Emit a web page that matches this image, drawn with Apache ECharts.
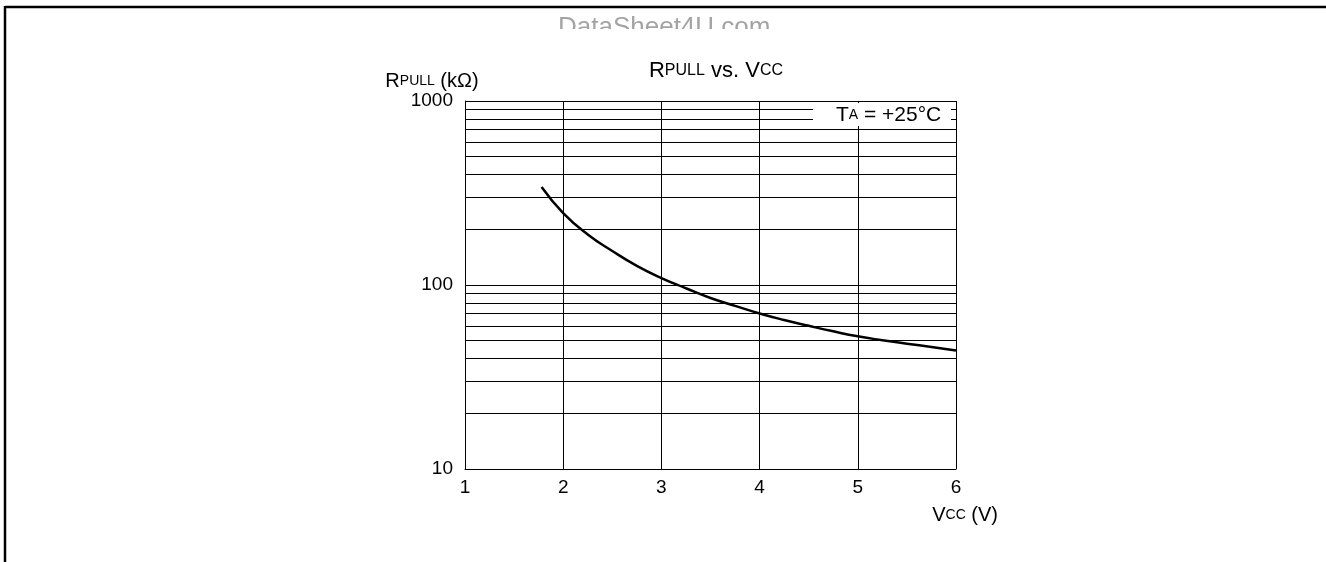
<!DOCTYPE HTML>
<html style="height: 100%">
<head>
    <meta charset="utf-8">
    <title>RPULL vs. VCC</title>
    <style>
        html, body { margin: 0; padding: 0; background: #fff; }
        #container { width: 1326px; height: 562px; }
    </style>
</head>
<body>
    <div id="container"></div>
    <script src="https://cdn.jsdelivr.net/npm/echarts@6/dist/echarts.min.js"></script>
    <script>
        // 曲线读数 (Vcc, Rpull kΩ)
        var vcc = [1.78, 2, 2.25, 2.5, 2.75, 3, 3.25, 3.5, 3.75, 4, 4.25, 4.5, 4.75, 5, 5.25, 5.5, 5.75, 6];
        var rpull = [341, 246, 188, 153, 127, 109, 96, 85, 77, 70, 64.5, 60, 56, 52.6, 50.1, 48, 46, 44];
        // 对数网格次刻度
        var minorGrid = [20, 30, 40, 50, 60, 70, 80, 90, 200, 300, 400, 500, 600, 700, 800, 900];
        var xTicks = [1, 2, 3, 4, 5, 6];

        var font = '"Liberation Sans", Arial, sans-serif';
        function rich(b, s) {
            return {
                big: { fontSize: b, color: '#000', fontFamily: font, fontWeight: 'normal' },
                small: { fontSize: s, color: '#000', fontFamily: font, fontWeight: 'normal' }
            };
        }

        var curve = [];
        for (var i = 0; i < vcc.length; i++) {
            curve.push([vcc[i], rpull[i]]);
        }
        var minorLines = [];
        for (var j = 0; j < minorGrid.length; j++) {
            minorLines.push({ yAxis: minorGrid[j] });
        }

        var myChart = echarts.init(document.getElementById('container'));
        var option = {
            backgroundColor: '#fff',
            animation: false,
            title: {
                text: '{big|R}{small|PULL}{big| vs. V}{small|CC}',
                left: 711,
                top: 55,
                textAlign: 'center',
                textStyle: { fontWeight: 'normal', rich: rich(22, 16) }
            },
            grid: { left: 465, right: 370, top: 101, bottom: 93 },
            xAxis: {
                type: 'value',
                min: 1,
                max: 6,
                interval: 1,
                name: '{big|V}{small|CC}{big| (V)}',
                nameLocation: 'end',
                nameGap: 0,
                nameTextStyle: {
                    align: 'right',
                    verticalAlign: 'top',
                    padding: [36, -42, 0, 0],
                    rich: rich(20, 14)
                },
                axisLine: { lineStyle: { color: '#000', width: 1 } },
                axisTick: { show: false },
                axisLabel: {
                    margin: 9,
                    fontSize: 19,
                    color: '#000',
                    fontFamily: font,
                    formatter: function (v) { return xTicks.indexOf(v) >= 0 ? String(v) : ''; }
                },
                splitLine: { show: true, lineStyle: { color: '#000', width: 1 } }
            },
            yAxis: {
                type: 'log',
                logBase: 10,
                min: 10,
                max: 1000,
                name: '{big|R}{small|PULL}{big| (kΩ)}',
                nameLocation: 'end',
                nameGap: 5,
                nameTextStyle: {
                    align: 'center',
                    padding: [0, 0, 0, -66],
                    rich: rich(20, 14)
                },
                axisLine: { show: true, lineStyle: { color: '#000', width: 1 } },
                axisTick: { show: false },
                axisLabel: {
                    margin: 12,
                    fontSize: 19,
                    color: '#000',
                    fontFamily: font,
                    formatter: function (v) { return String(Math.round(v)); }
                },
                splitLine: { show: true, lineStyle: { color: '#000', width: 1 } }
            },
            graphic: [
                // 外框
                { type: 'line', shape: { x1: 5, y1: 7, x2: 1326, y2: 7 }, style: { stroke: '#000', lineWidth: 2.5 }, z: 100 },
                { type: 'line', shape: { x1: 5, y1: 6, x2: 5, y2: 562 }, style: { stroke: '#000', lineWidth: 2.5 }, z: 100 },
                // 水印 (上半部分可见)
                {
                    type: 'text', left: 558, top: 15, z: 100,
                    style: { text: 'DataSheet4U.com', fontSize: 26, fill: '#a4a4a4', fontFamily: font }
                },
                { type: 'rect', shape: { x: 540, y: 29, width: 260, height: 20 }, style: { fill: '#fff' }, z: 101 },
                // 温度标注
                { type: 'rect', shape: { x: 813, y: 103, width: 138, height: 23 }, style: { fill: '#fff' }, z: 100 },
                {
                    type: 'text', left: 836, top: 105, z: 101,
                    style: {
                        text: '{big|T}{small|A}{big| = +25°C}',
                        rich: rich(21, 14)
                    }
                }
            ],
            series: [{
                type: 'line',
                data: curve,
                smooth: true,
                symbol: 'none',
                lineStyle: { color: '#000', width: 2.5 },
                markLine: {
                    silent: true,
                    symbol: 'none',
                    label: { show: false },
                    lineStyle: { color: '#000', width: 1, type: 'solid' },
                    data: minorLines
                }
            }]
        };
        myChart.setOption(option);
    </script>
</body>
</html>
